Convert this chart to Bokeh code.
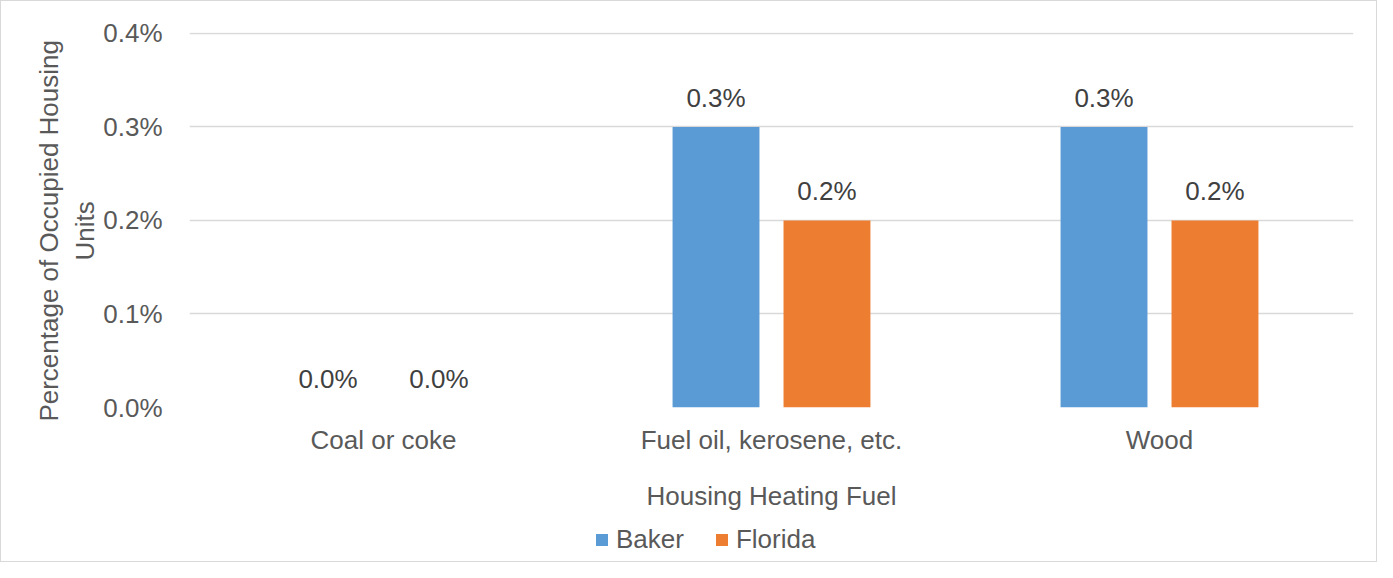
from bokeh.plotting import figure
from bokeh.layouts import column
from bokeh.models import (ColumnDataSource, FactorRange, Range1d, FixedTicker,
                          PrintfTickFormatter, LabelSet, Legend, LegendItem)
from bokeh.core.properties import value
from bokeh.transform import dodge
from bokeh.embed import file_html
from bokeh.resources import INLINE

# ---- data ----
categories = ["Coal or coke", "Fuel oil, kerosene, etc.", "Wood"]
baker = [0.0, 0.3, 0.3]
florida = [0.0, 0.2, 0.2]
series_names = ["Baker", "Florida"]
y_ticks = [0.0, 0.1, 0.2, 0.3, 0.4]

x_title = "Housing Heating Fuel"
y_title = "Percentage of Occupied Housing   \nUnits   "

# ---- styles ----
FONT = "Liberation Sans"
BLUE = "#5B9BD5"
ORANGE = "#ED7D31"
GRID = "#D9D9D9"
TICK_TXT = "#595959"
LBL_TXT = "#404040"

source = ColumnDataSource(dict(
    cat=categories,
    baker=baker,
    florida=florida,
    baker_lbl=["%.1f%%" % v for v in baker],
    florida_lbl=["%.1f%%" % v for v in florida],
))

W, H, LH = 1375, 520, 40
p = figure(x_range=FactorRange(factors=categories, range_padding=0),
           y_range=Range1d(0, 0.401),
           width=W, height=H, output_backend="svg", toolbar_location=None,
           min_border_left=188, min_border_right=23,
           min_border_top=31, min_border_bottom=114)
p.outline_line_color = None
p.background_fill_color = "white"
p.border_fill_color = "white"

OFF = 0.143
BW = 0.224
r1 = p.vbar(x=dodge("cat", -OFF, range=p.x_range), top="baker", width=BW,
            source=source, fill_color=BLUE, line_color=None)
r2 = p.vbar(x=dodge("cat", OFF, range=p.x_range), top="florida", width=BW,
            source=source, fill_color=ORANGE, line_color=None)

for col, off in (("baker", -OFF), ("florida", OFF)):
    p.add_layout(LabelSet(x=dodge("cat", off, range=p.x_range), y=col,
                          text=col + "_lbl", source=source, y_offset=20,
                          text_align="center", text_baseline="alphabetic",
                          text_font=value(FONT), text_font_size=value("26px"),
                          text_color=LBL_TXT))

# grid
p.xgrid.grid_line_color = None
p.ygrid.grid_line_color = GRID
p.ygrid.grid_line_width = 1.3

# y axis
p.yaxis.ticker = FixedTicker(ticks=y_ticks)
p.yaxis.formatter = PrintfTickFormatter(format="%.1f%%")
p.yaxis.axis_line_color = None
p.yaxis.major_tick_line_color = None
p.yaxis.minor_tick_line_color = None
p.yaxis.major_label_text_font = FONT
p.yaxis.major_label_text_font_size = "26px"
p.yaxis.major_label_text_color = TICK_TXT
p.yaxis.major_label_standoff = 21
p.yaxis.axis_label = y_title
p.yaxis.axis_label_text_font = FONT
p.yaxis.axis_label_text_font_size = "26px"
p.yaxis.axis_label_text_font_style = "normal"
p.yaxis.axis_label_text_color = TICK_TXT
p.yaxis.axis_label_standoff = 0

# x axis
p.xaxis.axis_line_color = None
p.xaxis.major_tick_line_color = None
p.xaxis.minor_tick_line_color = None
p.xaxis.major_label_text_font = FONT
p.xaxis.major_label_text_font_size = "26px"
p.xaxis.major_label_text_color = TICK_TXT
p.xaxis.major_label_standoff = 11
p.xaxis.axis_label = x_title
p.xaxis.axis_label_text_font = FONT
p.xaxis.axis_label_text_font_size = "26px"
p.xaxis.axis_label_text_font_style = "normal"
p.xaxis.axis_label_text_color = TICK_TXT
p.xaxis.axis_label_standoff = 23

# ---- legend strip (separate figure below the chart) ----
lf = figure(width=W, height=LH, x_range=Range1d(0, 1), y_range=Range1d(0, 1),
            output_backend="svg", toolbar_location=None,
            min_border=0, min_border_left=0, min_border_right=0,
            min_border_top=0, min_border_bottom=0)
lf.axis.visible = False
lf.grid.visible = False
lf.outline_line_color = None
lf.background_fill_color = "white"
lf.border_fill_color = "white"
# legend-only swatch renderers: one point each, placed outside the visible range
swatch = ColumnDataSource(dict(x=[-10.0], top=[-10.0]))
g1 = lf.vbar(x="x", top="top", width=0.1, source=swatch, fill_color=BLUE, line_color=None)
g2 = lf.vbar(x="x", top="top", width=0.1, source=swatch, fill_color=ORANGE, line_color=None)

legend = Legend(items=[LegendItem(label=series_names[0], renderers=[g1]),
                       LegendItem(label=series_names[1], renderers=[g2])],
                orientation="horizontal", location=(405, 6),
                glyph_width=15, glyph_height=15, label_standoff=7, spacing=30,
                padding=0, margin=0, border_line_alpha=0,
                background_fill_alpha=0,
                label_text_font=FONT, label_text_font_size="26px",
                label_text_color=TICK_TXT)
lf.add_layout(legend, "center")

layout = column(p, lf, spacing=0)
layout.styles = {"border": "1px solid #D9D9D9", "background": "white"}

open("out.html", "w").write(file_html(layout, INLINE))
